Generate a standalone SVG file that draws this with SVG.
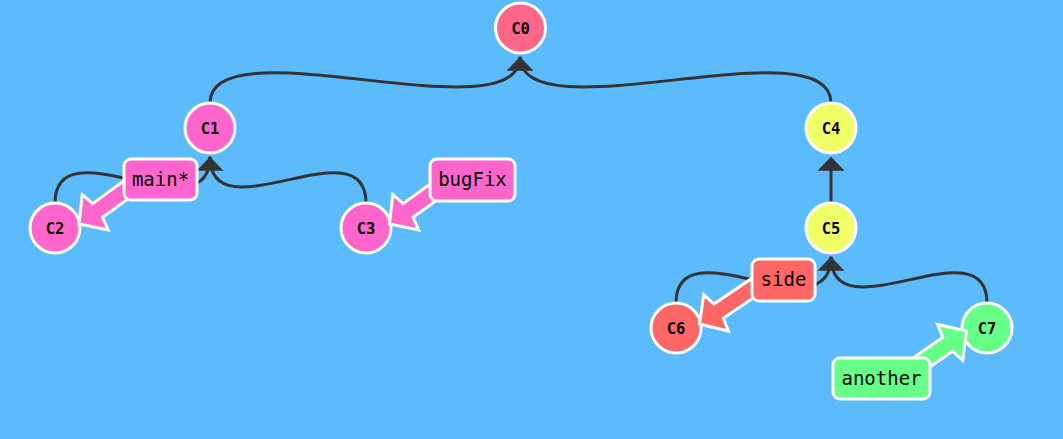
<svg xmlns="http://www.w3.org/2000/svg" width="1063" height="439" viewBox="0 0 1063 439">
  <style>
    .edge { fill: none; stroke: #333333; stroke-width: 3; }
    .ah { fill: #333333; }
    .commit { stroke: #ffffff; stroke-width: 3; }
    .ctext { font-family: "DejaVu Sans Mono", "Liberation Mono", monospace; font-size: 15.5px; font-weight: bold; fill: #000000; text-anchor: middle; }
    .barrow { stroke: #ffffff; stroke-width: 3; stroke-linejoin: miter; }
    .brect { stroke: #ffffff; stroke-width: 3; }
    .btext { font-family: "DejaVu Sans Mono", "Liberation Mono", monospace; font-size: 19px; fill: #000000; text-anchor: middle; }
    .pink { fill: #ff66cc; }
    .yellow { fill: #efff66; }
    .red { fill: #ff6666; }
    .green { fill: #66ff88; }
    .rose { fill: #ff6688; }
  </style>
  <defs>
    <polygon id="barrowShape" points="0,0 -20,-22 -23,-8.5 -72,-8.5 -72,8.5 -23,8.5 -20,22"/>
  </defs>
  <rect x="0" y="0" width="1063" height="439" fill="#5cbbfc"/>

  <g id="connectors">
    <path class="edge" d="M210,103 C210,23 520,136.75 520,56.75"/>
    <polygon class="ah" points="520,56.75 506.5,70.75 533.5,70.75"/>
    <path class="edge" d="M831,103 C831,23 520,136.75 520,56.75"/>
    <path class="edge" d="M55,203 C55,123 210,236.75 210,156.75"/>
    <path class="edge" d="M366,203 C366,123 210,236.75 210,156.75"/>
    <polygon class="ah" points="210,156.75 196.5,170.75 223.5,170.75"/>
    <path class="edge" d="M831,203 L831,160"/>
    <polygon class="ah" points="831,156.75 817.5,170.75 844.5,170.75"/>
    <path class="edge" d="M676,303 C676,223 831,336.75 831,256.75"/>
    <path class="edge" d="M987,303 C987,223 831,336.75 831,256.75"/>
    <polygon class="ah" points="831,256.75 817.5,270.75 844.5,270.75"/>
  </g>

  <g id="C0">
    <circle class="commit rose" cx="520.5" cy="28" r="25"/>
    <text class="ctext" x="520.5" y="33.5">C0</text>
  </g>
  <g id="C1">
    <circle class="commit pink" cx="210" cy="128" r="25"/>
    <text class="ctext" x="210" y="133.5">C1</text>
  </g>
  <g id="C2">
    <circle class="commit pink" cx="55" cy="228" r="25"/>
    <text class="ctext" x="55" y="233.5">C2</text>
  </g>
  <g id="C3">
    <circle class="commit pink" cx="366" cy="228" r="25"/>
    <text class="ctext" x="366" y="233.5">C3</text>
  </g>
  <g id="C4">
    <circle class="commit yellow" cx="831" cy="128" r="25"/>
    <text class="ctext" x="831" y="133.5">C4</text>
  </g>
  <g id="C5">
    <circle class="commit yellow" cx="831" cy="228" r="25"/>
    <text class="ctext" x="831" y="233.5">C5</text>
  </g>
  <g id="C6">
    <circle class="commit red" cx="676" cy="328" r="25"/>
    <text class="ctext" x="676" y="333.5">C6</text>
  </g>
  <g id="C7">
    <circle class="commit green" cx="987" cy="328" r="25"/>
    <text class="ctext" x="987" y="333.5">C7</text>
  </g>

  <g id="branch-main">
    <use href="#barrowShape" class="barrow pink" transform="translate(79,224) rotate(144)"/>
    <rect class="brect pink" x="124" y="159" width="73" height="41" rx="7"/>
    <text class="btext" x="160.5" y="186">main*</text>
  </g>
  <g id="branch-bugFix">
    <use href="#barrowShape" class="barrow pink" transform="translate(389.5,224) rotate(144)"/>
    <rect class="brect pink" x="430" y="159" width="85" height="42" rx="7"/>
    <text class="btext" x="472.5" y="186">bugFix</text>
  </g>
  <g id="branch-side">
    <use href="#barrowShape" class="barrow red" transform="translate(699.5,324) rotate(146)"/>
    <rect class="brect red" x="752" y="259" width="63" height="42" rx="7"/>
    <text class="btext" x="783.5" y="286">side</text>
  </g>
  <g id="branch-another">
    <use href="#barrowShape" class="barrow green" transform="translate(966.5,331) rotate(-35)"/>
    <rect class="brect green" x="833" y="358" width="97" height="41" rx="7"/>
    <text class="btext" x="881.5" y="384.5">another</text>
  </g>
</svg>
